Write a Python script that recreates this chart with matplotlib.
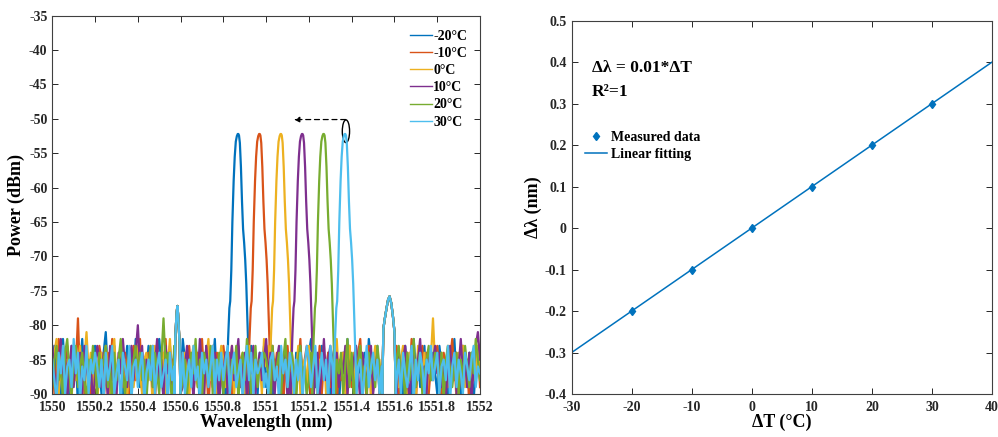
import numpy as np
import matplotlib
matplotlib.use("Agg")
import matplotlib.pyplot as plt
from matplotlib.patches import Ellipse
from matplotlib.ticker import FormatStrFormatter

plt.rcParams["font.family"] = ["Liberation Serif", "DejaVu Serif"]
plt.rcParams["font.weight"] = "bold"
plt.rcParams["axes.labelweight"] = "bold"
plt.rcParams["axes.unicode_minus"] = False

# --- spectra (left panel) ---
labels = ["-20°C", "-10°C", "0°C", "10°C", "20°C", "30°C"]
colors = ["#0072BD", "#D95319", "#EDB120", "#7E2F8E", "#77AC30", "#4DBEEE"]
peak_centers = [1550.87, 1550.97, 1551.07, 1551.17, 1551.27, 1551.37]

# peak shape (offset from centre in nm, power in dBm)
peak_offsets = [-0.055, -0.048, -0.042, -0.038, -0.033, -0.028, -0.022, -0.017, -0.012,
                -0.007, -0.003, 0.0, 0.003, 0.007, 0.012, 0.017, 0.022, 0.027, 0.032,
                0.037, 0.042, 0.047, 0.053]
peak_power = [-90, -82, -77.5, -76.5, -72, -65, -59, -55.5, -53.3,
              -52.5, -52.2, -52.2, -52.4, -53.5, -57, -62, -66, -68, -70.5,
              -74, -79, -84, -90]

# two weak side bumps shared by all traces
bump1_center = 1550.585
bump1_offsets = [-0.014, -0.01, -0.006, -0.003, 0.0, 0.003, 0.006, 0.01, 0.014]
bump1_power = [-90, -82, -79.5, -78, -77.2, -78.3, -80, -82.5, -90]
bump2_center = 1551.575
bump2_offsets = [-0.032, -0.027, -0.02, -0.012, -0.005, 0.002, 0.01, 0.018, 0.025, 0.031]
bump2_power = [-90, -80.5, -79, -77.5, -76.3, -75.8, -76.8, -78.8, -81, -90]

# noise floor, 0.01 nm steps from 1550 nm
noise_floor = [
    [-86,-83,-89,-84,-91,-82,-87,-85,-90,-83,-88,-84,-92,-86,-82,-89,-85,-87,-91,-84,
     -83,-88,-86,-90,-84,-81,-87,-92,-85,-83,-89,-86,-84,-90,-87,-83,-91,-85,-88,-82,
     -86,-89,-84,-92,-87,-83,-85,-90,-88,-84,-82,-86,-91,-85,-89,-83,-87,-84,-90,-86,
     -88,-82,-85,-91,-84,-87,-89,-83,-86,-92,-85,-88,-83,-90,-84,-86,-82,-89,-87,-85,
     -91,-84,-88,-83,-86,-90,-85,-87,-82,-89,-84,-92,-86,-83,-88,-85,-90,-84,-87,-83,
     -89,-86,-82,-91,-85,-88,-84,-87,-90,-83,-86,-89,-85,-92,-84,-87,-83,-88,-86,-90,
     -84,-82,-87,-89,-85,-91,-83,-86,-88,-84,-90,-85,-83,-87,-92,-86,-84,-89,-82,-88,
     -85,-90,-83,-87,-86,-91,-84,-88,-82,-85,-89,-87,-83,-90,-86,-84,-92,-85,-88,-83,
     -87,-89,-84,-86,-91,-83,-88,-85,-90,-82,-87,-84,-89,-86,-83,-91,-85,-88,-84,-87,
     -90,-83,-86,-89,-85,-92,-84,-87,-82,-88,-86,-90,-83,-85,-89,-84,-87,-91,-86,-83,
     -88],
    [-84,-90,-86,-82,-88,-85,-91,-83,-87,-89,-84,-86,-79,-88,-85,-90,-83,-87,-92,-84,
     -86,-89,-83,-85,-91,-87,-84,-88,-82,-86,-90,-85,-83,-89,-84,-87,-92,-86,-83,-88,
     -85,-82,-89,-86,-90,-84,-87,-83,-91,-85,-88,-84,-86,-82,-89,-87,-85,-90,-83,-86,
     -91,-84,-88,-85,-83,-87,-90,-86,-84,-89,-82,-88,-85,-92,-86,-83,-87,-84,-90,-88,
     -83,-86,-89,-84,-91,-85,-87,-83,-88,-86,-90,-84,-82,-89,-85,-87,-83,-91,-86,-84,
     -88,-85,-90,-83,-87,-84,-89,-86,-92,-85,-83,-88,-84,-87,-90,-86,-82,-89,-85,-83,
     -87,-91,-84,-86,-88,-83,-90,-85,-87,-84,-89,-86,-83,-92,-85,-88,-84,-86,-90,-83,
     -89,-85,-87,-84,-82,-88,-86,-91,-83,-85,-89,-87,-84,-90,-86,-83,-88,-85,-92,-84,
     -86,-83,-90,-87,-85,-89,-84,-88,-82,-86,-91,-85,-87,-83,-89,-84,-90,-86,-88,-85,
     -83,-87,-91,-84,-86,-89,-85,-82,-88,-84,-90,-86,-83,-87,-85,-92,-84,-88,-86,-83,
     -89],
    [-88,-84,-82,-90,-86,-83,-89,-85,-87,-91,-84,-88,-86,-83,-90,-85,-81,-87,-84,-89,
     -85,-91,-87,-84,-88,-83,-86,-90,-84,-82,-89,-86,-83,-88,-85,-91,-84,-87,-89,-86,
     -83,-87,-90,-85,-84,-88,-86,-92,-83,-87,-85,-89,-84,-90,-86,-82,-88,-85,-87,-83,
     -90,-86,-84,-88,-91,-85,-83,-87,-89,-84,-86,-90,-85,-82,-88,-84,-87,-91,-86,-83,
     -85,-89,-84,-87,-83,-90,-86,-88,-85,-84,-91,-87,-83,-89,-86,-84,-88,-85,-90,-82,
     -86,-83,-88,-85,-90,-84,-87,-89,-83,-86,-91,-85,-84,-88,-87,-83,-90,-86,-85,-89,
     -83,-88,-86,-84,-91,-85,-87,-83,-90,-86,-84,-89,-85,-82,-88,-87,-84,-90,-86,-83,
     -87,-84,-90,-86,-83,-89,-85,-88,-84,-91,-86,-83,-87,-85,-90,-84,-88,-86,-82,-89,
     -84,-86,-89,-85,-83,-88,-90,-84,-87,-85,-91,-83,-86,-88,-84,-90,-87,-85,-79,-86,
     -85,-89,-84,-87,-90,-83,-86,-88,-85,-91,-84,-87,-83,-89,-86,-85,-90,-84,-88,-83,
     -86],
    [-83,-87,-90,-85,-82,-88,-84,-91,-86,-83,-89,-85,-87,-84,-90,-83,-86,-88,-85,-92,
     -87,-83,-85,-89,-84,-86,-91,-83,-88,-85,-90,-84,-87,-82,-86,-89,-85,-83,-88,-84,
     -80,-86,-83,-90,-85,-87,-84,-89,-86,-82,-88,-85,-91,-83,-87,-84,-90,-86,-85,-88,
     -84,-89,-86,-83,-87,-85,-91,-84,-88,-82,-86,-90,-83,-87,-85,-89,-84,-86,-92,-85,
     -87,-84,-90,-86,-83,-88,-85,-82,-89,-86,-84,-91,-85,-87,-83,-90,-86,-84,-88,-85,
     -82,-88,-84,-87,-90,-85,-83,-89,-86,-84,-91,-87,-85,-83,-88,-86,-90,-84,-87,-89,
     -85,-83,-89,-86,-84,-90,-87,-82,-88,-85,-83,-91,-86,-84,-89,-85,-87,-83,-90,-86,
     -88,-85,-83,-87,-91,-84,-86,-89,-85,-83,-90,-87,-84,-88,-86,-82,-89,-85,-91,-84,
     -86,-90,-84,-88,-85,-83,-87,-91,-86,-84,-89,-85,-82,-88,-86,-90,-84,-87,-85,-83,
     -87,-84,-89,-86,-91,-85,-83,-88,-84,-90,-86,-82,-87,-85,-89,-84,-91,-86,-83,-81,
     -85],
    [-89,-85,-83,-88,-86,-91,-84,-82,-87,-90,-85,-83,-89,-86,-84,-88,-91,-85,-87,-83,
     -86,-90,-84,-87,-85,-83,-89,-86,-92,-84,-88,-85,-82,-87,-90,-86,-84,-89,-85,-83,
     -87,-84,-88,-85,-91,-86,-83,-89,-84,-87,-90,-85,-79,-86,-84,-88,-91,-83,-87,-85,
     -83,-88,-85,-90,-86,-84,-87,-82,-89,-85,-91,-84,-86,-88,-83,-90,-85,-87,-84,-86,
     -90,-86,-84,-89,-85,-87,-83,-91,-86,-84,-88,-82,-85,-90,-87,-83,-89,-85,-86,-84,
     -85,-87,-91,-83,-88,-86,-84,-90,-85,-82,-89,-86,-84,-87,-91,-85,-83,-88,-86,-90,
     -88,-84,-86,-90,-83,-87,-85,-89,-84,-91,-86,-83,-88,-85,-87,-84,-90,-86,-82,-89,
     -84,-91,-87,-85,-83,-88,-86,-90,-84,-87,-85,-89,-83,-86,-91,-84,-88,-85,-87,-83,
     -90,-85,-83,-87,-86,-91,-84,-88,-85,-82,-89,-86,-84,-90,-87,-85,-83,-88,-86,-84,
     -86,-88,-84,-91,-85,-83,-87,-89,-86,-84,-90,-85,-88,-83,-86,-89,-84,-87,-82,-85,
     -88],
    [-85,-88,-91,-84,-87,-83,-90,-86,-85,-89,-82,-87,-84,-91,-86,-88,-83,-90,-85,-87,
     -84,-86,-89,-85,-91,-84,-88,-86,-83,-90,-87,-85,-92,-84,-86,-88,-83,-91,-86,-85,
     -89,-86,-84,-91,-87,-85,-88,-83,-90,-86,-84,-89,-87,-85,-92,-84,-88,-86,-83,-90,
     -86,-84,-90,-87,-85,-89,-83,-88,-86,-91,-84,-87,-85,-89,-86,-83,-90,-85,-88,-84,
     -88,-85,-83,-90,-86,-84,-89,-87,-85,-91,-86,-83,-88,-84,-90,-85,-87,-86,-84,-89,
     -87,-90,-85,-84,-88,-86,-91,-83,-87,-85,-89,-84,-86,-90,-85,-88,-84,-91,-86,-83,
     -85,-89,-86,-83,-90,-87,-84,-88,-85,-91,-83,-86,-89,-85,-87,-84,-90,-86,-88,-85,
     -90,-84,-88,-86,-85,-91,-87,-83,-89,-86,-84,-88,-85,-90,-86,-83,-87,-85,-89,-84,
     -86,-88,-85,-90,-84,-87,-89,-86,-83,-91,-85,-88,-84,-86,-90,-85,-87,-83,-88,-86,
     -84,-90,-86,-85,-88,-83,-91,-86,-84,-89,-85,-87,-90,-84,-86,-88,-85,-83,-89,-86,
     -87],
]

# --- temperature shift (right panel) ---
delta_T = [-20, -10, 0, 10, 20, 30]
delta_lambda = [-0.2, -0.1, 0.0, 0.1, 0.2, 0.3]
fit_T = [-30, 40]
fit_lambda = [-0.3, 0.4]
y2_ticks = [-0.4, -0.3, -0.2, -0.1, 0, 0.1, 0.2, 0.3, 0.4, 0.5]

fig = plt.figure(figsize=(9.98, 4.37), dpi=100)
ax1 = fig.add_axes([0.0524, 0.0984, 0.4286, 0.8657])
ax2 = fig.add_axes([0.5728, 0.0984, 0.4211, 0.8542])


def build_trace(noise, center):
    x = 1550.0 + 0.01 * np.arange(len(noise))
    y = np.array(noise, dtype=float)
    keep = (np.abs(x - center) > 0.056) & (np.abs(x - bump1_center) > 0.015) \
        & (np.abs(x - bump2_center) > 0.033)
    xs = np.concatenate([x[keep], center + np.array(peak_offsets),
                         bump1_center + np.array(bump1_offsets),
                         bump2_center + np.array(bump2_offsets)])
    ys = np.concatenate([y[keep], peak_power, bump1_power, bump2_power])
    order = np.argsort(xs)
    return xs[order], ys[order]


for noise, c, col, lab in zip(noise_floor, peak_centers, colors, labels):
    xs, ys = build_trace(noise, c)
    ax1.plot(xs, ys, color=col, lw=1.6, label=lab)

ax1.set_xlim(1550, 1552)
ax1.set_ylim(-90, -35)
ax1.set_xticks(np.arange(1550, 1552.01, 0.2))
ax1.set_yticks(np.arange(-90, -34, 5))
ax1.xaxis.set_major_formatter(FormatStrFormatter("%g"))
ax1.set_xlabel("Wavelength (nm)", fontsize=13, labelpad=0)
ax1.set_ylabel("Power (dBm)", fontsize=13)
ax1.yaxis.set_label_coords(-0.064, 0.5)

# arrow and ellipse marking the shift
ax1.annotate("", xy=(1551.13, -50.1), xytext=(1551.372, -50.1),
             arrowprops=dict(arrowstyle="-|>", linestyle=(0, (4, 3)), color="black",
                             lw=0.9, mutation_scale=8, shrinkA=0, shrinkB=0))
ax1.add_patch(Ellipse((1551.373, -51.8), 0.034, 3.3, fill=False, ec="black", lw=1.0))

leg1 = ax1.legend(loc="upper right", bbox_to_anchor=(0.99, 0.985), frameon=False,
                  fontsize=10, handlelength=1.6, handletextpad=0.1, labelspacing=0.3,
                  borderaxespad=0.2)
for line in leg1.get_lines():
    line.set_linewidth(1.0)

ax2.plot(fit_T, fit_lambda, color="#0072BD", lw=1.1, label="Linear fitting", zorder=2)
ax2.plot(delta_T, delta_lambda, linestyle="none", marker="d", ms=4.5, color="#0072BD",
         label="Measured data", zorder=3)
ax2.set_xlim(-30, 40)
ax2.set_ylim(-0.4, 0.5)
ax2.set_xticks(np.arange(-30, 41, 10))
ax2.set_yticks(y2_ticks)
ax2.set_yticklabels([f"{v:g}" for v in y2_ticks])
ax2.set_xlabel("ΔT (°C)", fontsize=13, labelpad=0)
ax2.set_ylabel("Δλ (nm)", fontsize=13)
ax2.yaxis.set_label_coords(-0.071, 0.5)
ax2.text(-26.6, 0.385, "Δλ = 0.01*ΔT", fontsize=12.5, fontweight="bold", va="center")
ax2.text(-26.6, 0.328, "R²=1", fontsize=12.5, fontweight="bold", va="center")
h, l = ax2.get_legend_handles_labels()
ax2.legend([h[1], h[0]], [l[1], l[0]], loc="upper left", bbox_to_anchor=(0.008, 0.73),
           frameon=False, fontsize=10, handlelength=1.6, handletextpad=0.3,
           labelspacing=0.25, borderaxespad=0.3)

for ax in (ax1, ax2):
    ax.tick_params(direction="in", top=True, right=True, length=4, width=0.7,
                   labelsize=10, colors="#262626")
    ax.tick_params(axis="x", pad=5)
    for lbl in ax.get_xticklabels() + ax.get_yticklabels():
        lbl.set_fontweight("bold")
    for s in ax.spines.values():
        s.set_linewidth(0.8)
        s.set_color("#404040")

fig.savefig("out.png", dpi=100)
